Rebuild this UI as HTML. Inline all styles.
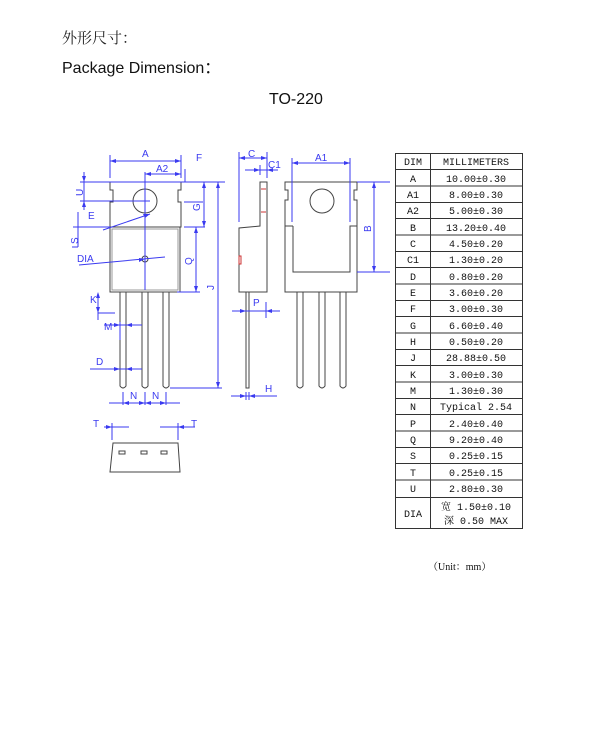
<!DOCTYPE html>
<html><head><meta charset="utf-8"><style>
html,body{margin:0;padding:0;background:#fff;width:610px;height:754px;overflow:hidden}
</style></head><body>
<svg width="610" height="754" viewBox="0 0 610 754" xmlns="http://www.w3.org/2000/svg">
<text x="62" y="43" font-family="Noto Serif CJK SC, serif" font-size="15" fill="#222">外形尺寸：</text>
<text x="62" y="73" font-family="Liberation Sans, Noto Sans CJK SC, sans-serif" font-size="16" fill="#111">Package Dimension：</text>
<text x="269" y="104" font-family="Liberation Sans, sans-serif" font-size="16" fill="#111">TO-220</text>

<g fill="none" stroke="#444" stroke-width="1">
<!-- front view -->
<path d="M110,182 H181 V190 H178 V202 H181 V227 H110 V202 H113 V190 H110 Z"/>
<rect x="110" y="227" width="70" height="65"/>
<rect x="112" y="229" width="66" height="61" stroke="#999"/>
<circle cx="145" cy="201" r="12"/>
<circle cx="145" cy="259" r="3"/>
<path d="M120,292 V386 Q123,390 126,386 V292"/>
<path d="M142,292 V386 Q145,390 148,386 V292"/>
<path d="M163,292 V386 Q166,390 169,386 V292"/>
<!-- bottom view -->
<path d="M113,443 H178 L180,472 H110 Z"/>
<rect x="119" y="451" width="6" height="3"/><rect x="141" y="451" width="6" height="3"/><rect x="161" y="451" width="6" height="3"/>
<!-- side view -->
<path d="M260,182 H267 V292 H239 V228 L260,226 Z"/>
<path d="M246,292 V388 H249 V292"/>
<!-- back view -->
<path d="M285,182 H357 V190 H354 V200 H357 V292 H285 V200 H288 V190 H285 Z"/>
<path d="M293,226 V272 H350 V226 H357 M293,226 H285"/>
<circle cx="322" cy="201" r="12"/>
<path d="M297,292 V386 Q300,390 303,386 V292"/>
<path d="M319,292 V386 Q322,390 325,386 V292"/>
<path d="M340,292 V386 Q343,390 346,386 V292"/>
</g>
<g stroke="#c33" stroke-width="1" fill="none"><rect x="239" y="256" width="2" height="8"/><path d="M261,189 H266 M261,212 H266"/></g>

<g stroke="#3a3af0" stroke-width="1" fill="none">
<!-- front dims -->
<path d="M110,155 V178 M181,155 V178 M110,161 H181"/>
<path d="M145,172 V290 M145,174 H181 M185,169 V182"/>
<path d="M80,182 H225 M80,201 H150 M84,172 V210"/>
<path d="M184,202 H203 M184,227 H205 M204,182 V227"/>
<path d="M73,227 H110 M78,212 V247 M72,247 H78"/>
<path d="M196,227 V292 M177,292 H200"/>
<path d="M218,182 V388 M170,388 H222"/>
<path d="M98,297 V320 M98,313 H115"/>
<path d="M104,325 H142 M120,322 V340"/>
<path d="M90,369 H142"/>
<path d="M109,403 H180 M123,392 V405 M145,392 V405 M166,392 V405"/>
<path d="M104,427 H129 M112,423 V440"/>
<path d="M160,427 H195 M178,423 V440"/>
<path d="M103,230 L150,214 M79,265 L165,257"/>
<!-- side dims -->
<path d="M239,152 V222 M239,158 H267 M267,152 V178 M245,170 H278 M260,165 V175"/>
<path d="M232,311 H280 M266,302 V318"/>
<path d="M231,396 H277 M246,392 V400 M249,392 V400"/>
<!-- back dims -->
<path d="M292,163 H350 M292,158 V222 M350,158 V222"/>
<path d="M357,182 H390 M357,272 H390 M374,182 V272"/>
</g>
<g fill="#3a3af0">
<polygon points="110,161 116,159 116,163"/><polygon points="181,161 175,159 175,163"/>
<polygon points="145,174 151,172 151,176"/><polygon points="181,174 175,172 175,176"/>
<polygon points="84,182 82,176 86,176"/><polygon points="84,201 82,207 86,207"/>
<polygon points="204,182 202,188 206,188"/><polygon points="204,227 202,221 206,221"/>
<polygon points="196,227 194,233 198,233"/><polygon points="196,292 194,286 198,286"/>
<polygon points="218,182 216,188 220,188"/><polygon points="218,388 216,382 220,382"/>
<polygon points="98,292 96,298 100,298"/><polygon points="98,313 96,307 100,307"/>
<polygon points="120,325 114,323 114,327"/><polygon points="126,325 132,323 132,327"/>
<polygon points="120,369 114,367 114,371"/><polygon points="126,369 132,367 132,371"/>
<polygon points="123,403 129,401 129,405"/><polygon points="145,403 139,401 139,405"/><polygon points="145,403 151,401 151,405"/><polygon points="166,403 160,401 160,405"/>
<polygon points="112,427 106,425 106,429"/><polygon points="178,427 184,425 184,429"/>
<polygon points="150,214 143,214 145,218"/><polygon points="145,259 139,258 139,262"/>
<polygon points="239,158 245,156 245,160"/><polygon points="267,158 261,156 261,160"/>
<polygon points="260,170 254,168 254,172"/><polygon points="267,170 273,168 273,172"/>
<polygon points="246,311 240,309 240,313"/><polygon points="266,311 272,309 272,313"/>
<polygon points="246,396 240,394 240,398"/><polygon points="249,396 255,394 255,398"/>
<polygon points="292,163 298,161 298,165"/><polygon points="350,163 344,161 344,165"/>
<polygon points="374,182 372,188 376,188"/><polygon points="374,272 372,266 376,266"/>
</g>
<g font-family="Liberation Sans, sans-serif" font-size="10" fill="#3a3af0">
<text x="142" y="157">A</text><text x="156" y="172">A2</text><text x="196" y="161">F</text>
<text x="88" y="219">E</text><text x="77" y="262">DIA</text>
<text x="90" y="303">K</text><text x="104" y="330">M</text><text x="96" y="365">D</text>
<text x="130" y="399">N</text><text x="152" y="399">N</text>
<text x="93" y="427">T</text><text x="191" y="427">T</text>
<text x="248" y="157">C</text><text x="268" y="168">C1</text><text x="253" y="306">P</text><text x="265" y="392">H</text>
<text x="315" y="161">A1</text>
<text transform="translate(83,196) rotate(-90)">U</text>
<text transform="translate(78,244) rotate(-90)">S</text>
<text transform="translate(200,211) rotate(-90)">G</text>
<text transform="translate(192,265) rotate(-90)">Q</text>
<text transform="translate(214,290) rotate(-90)">J</text>
<text transform="translate(371,232) rotate(-90)">B</text>
</g>

<g stroke="#333" stroke-width="1" fill="none">
<rect x="395.5" y="153.5" width="127" height="375"/>
<path d="M430.5,153.5 V528.5"/>
<path d="M395.5,169.5 H522.5 M395.5,186 H522.5 M395.5,202.5 H522.5 M395.5,218.5 H522.5 M395.5,235 H522.5 M395.5,251.5 H522.5 M395.5,267.5 H522.5 M395.5,284 H522.5 M395.5,300.5 H522.5 M395.5,316.5 H522.5 M395.5,333 H522.5 M395.5,349.5 H522.5 M395.5,365.5 H522.5 M395.5,382 H522.5 M395.5,398.5 H522.5 M395.5,414.5 H522.5 M395.5,431 H522.5 M395.5,447.5 H522.5 M395.5,463.5 H522.5 M395.5,480 H522.5 M395.5,497.5 H522.5"/>
</g>
<g font-family="Liberation Mono, Noto Serif CJK SC, monospace" font-size="10" fill="#111" text-anchor="middle">
<text x="413" y="165">DIM</text><text x="476" y="165">MILLIMETERS</text>
<text x="413" y="182">A</text><text x="476" y="182">10.00±0.30</text>
<text x="413" y="198">A1</text><text x="476" y="198">8.00±0.30</text>
<text x="413" y="214">A2</text><text x="476" y="214">5.00±0.30</text>
<text x="413" y="231">B</text><text x="476" y="231">13.20±0.40</text>
<text x="413" y="247">C</text><text x="476" y="247">4.50±0.20</text>
<text x="413" y="263">C1</text><text x="476" y="263">1.30±0.20</text>
<text x="413" y="280">D</text><text x="476" y="280">0.80±0.20</text>
<text x="413" y="296">E</text><text x="476" y="296">3.60±0.20</text>
<text x="413" y="312">F</text><text x="476" y="312">3.00±0.30</text>
<text x="413" y="329">G</text><text x="476" y="329">6.60±0.40</text>
<text x="413" y="345">H</text><text x="476" y="345">0.50±0.20</text>
<text x="413" y="361">J</text><text x="476" y="361">28.88±0.50</text>
<text x="413" y="378">K</text><text x="476" y="378">3.00±0.30</text>
<text x="413" y="394">M</text><text x="476" y="394">1.30±0.30</text>
<text x="413" y="410">N</text><text x="476" y="410">Typical 2.54</text>
<text x="413" y="427">P</text><text x="476" y="427">2.40±0.40</text>
<text x="413" y="443">Q</text><text x="476" y="443">9.20±0.40</text>
<text x="413" y="459">S</text><text x="476" y="459">0.25±0.15</text>
<text x="413" y="476">T</text><text x="476" y="476">0.25±0.15</text>
<text x="413" y="492">U</text><text x="476" y="492">2.80±0.30</text>
<text x="413" y="517">DIA</text><text x="476" y="510">宽 1.50±0.10</text><text x="476" y="524">深 0.50 MAX</text>
</g>
<text x="428" y="570" font-family="Liberation Serif, Noto Serif CJK SC, serif" font-size="10" fill="#111">（Unit：mm）</text>
</svg>
</body></html>
